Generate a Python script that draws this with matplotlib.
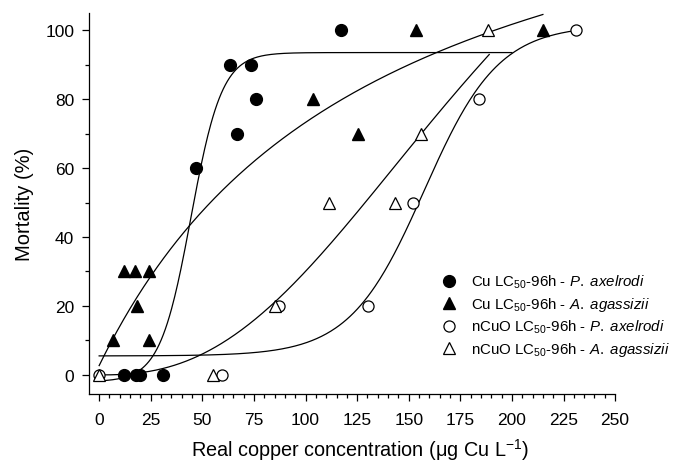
import numpy as np
import matplotlib
matplotlib.use('Agg')
import matplotlib.pyplot as plt
from matplotlib.lines import Line2D

plt.rcParams['font.family'] = ['Liberation Sans', 'DejaVu Sans']
plt.rcParams['mathtext.fontset'] = 'custom'
plt.rcParams['mathtext.rm'] = 'Liberation Sans'
plt.rcParams['mathtext.it'] = 'Liberation Sans:italic'

cu_pa_x = [12, 18, 20, 31, 47, 63.5, 67, 73.5, 76, 117]
cu_pa_y = [0, 0, 0, 0, 60, 90, 70, 90, 80, 100]
cu_aa_x = [6.8, 12, 17.3, 24, 18.4, 24, 103.5, 125.5, 153.5, 215]
cu_aa_y = [10, 30, 30, 30, 20, 10, 80, 70, 100, 100]
ncuo_pa_x = [0, 59.5, 87, 130.5, 152, 184, 231]
ncuo_pa_y = [0, 0, 20, 20, 50, 80, 100]
ncuo_aa_x = [0, 55, 85, 111.3, 143.5, 156, 188.5]
ncuo_aa_y = [0, 0, 20, 50, 50, 70, 100]

labels = [r'Cu LC$_{50}$-96h - $\it{P.\ axelrodi}$',
          r'Cu LC$_{50}$-96h - $\it{A.\ agassizii}$',
          r'nCuO LC$_{50}$-96h - $\it{P.\ axelrodi}$',
          r'nCuO LC$_{50}$-96h - $\it{A.\ agassizii}$']

# fitted regression curves (parameters estimated from the figure)
fit_cu_pa = dict(y0=-2.0, a=95.5, x0=44.5, b=7.5, xmax=200)     # sigmoid
fit_cu_aa = dict(y0=2.7, a=165.8, k=135.0, xmax=215)            # hyperbola
fit_ncuo_pa = dict(y0=5.5, a=96.0, x0=157.5, b=18.0, xmax=231)  # sigmoid
fit_ncuo_aa = dict(a=200.0, c=200.0, h=2.5, xmax=189)           # hill


def sigmoid(p):
    x = np.linspace(0, p['xmax'], 400)
    return x, p['y0'] + p['a'] / (1 + np.exp(-(x - p['x0']) / p['b']))


def hyperbola(p):
    x = np.linspace(0, p['xmax'], 400)
    return x, p['y0'] + p['a'] * x / (p['k'] + x)


def hill(p):
    x = np.linspace(0.01, p['xmax'], 400)
    return x, p['a'] / (1 + (p['c'] / x) ** p['h'])


fig = plt.figure(figsize=(6.73, 4.64), dpi=100)
ax = fig.add_axes([0.132, 0.149, 0.782, 0.821])

for x, y in [sigmoid(fit_cu_pa), hyperbola(fit_cu_aa),
             sigmoid(fit_ncuo_pa), hill(fit_ncuo_aa)]:
    ax.plot(x, y, color='black', lw=0.9, zorder=2)

ms = 8.5
ax.plot(cu_pa_x, cu_pa_y, 'o', color='black', ms=ms, ls='none', zorder=3)
ax.plot(cu_aa_x, cu_aa_y, '^', color='black', ms=ms, ls='none', zorder=3)
ax.plot(ncuo_pa_x, ncuo_pa_y, 'o', mfc='white', mec='black', mew=0.9,
        ms=ms - 0.5, ls='none', zorder=3)
ax.plot(ncuo_aa_x, ncuo_aa_y, '^', mfc='white', mec='black', mew=0.9,
        ms=ms - 0.5, ls='none', zorder=3)

ax.set_xlim(-5, 250)
ax.set_ylim(-5.5, 105)
ax.set_xticks(np.arange(0, 251, 25))
ax.set_xticks(np.arange(0, 251, 5), minor=True)
ax.set_yticks(np.arange(0, 101, 20))
ax.set_yticks(np.arange(0, 101, 10), minor=True)
ax.tick_params(which='major', length=5, width=0.9, labelsize=12.5, direction='out')
ax.tick_params(axis='x', which='major', pad=8)
ax.tick_params(axis='y', which='major', pad=5.5)
ax.tick_params(which='minor', length=3, width=0.9, direction='out')
for s in ['top', 'right']:
    ax.spines[s].set_visible(False)
for s in ['left', 'bottom']:
    ax.spines[s].set_linewidth(0.9)

ax.set_xlabel('Real copper concentration (μg Cu L$^{-1}$)', fontsize=14.3)
ax.xaxis.set_label_coords(0.515, -0.112, transform=ax.transAxes)
ax.xaxis.label.set_va('top')
ax.set_ylabel('Mortality (%)', fontsize=14.5, labelpad=8)

handles = [
    Line2D([], [], marker='o', color='black', ls='none', ms=ms),
    Line2D([], [], marker='^', color='black', ls='none', ms=ms),
    Line2D([], [], marker='o', mfc='white', mec='black', mew=0.9, ls='none', ms=ms - 0.5),
    Line2D([], [], marker='^', mfc='white', mec='black', mew=0.9, ls='none', ms=ms - 0.5),
]
ax.legend(handles, labels, frameon=False, fontsize=10.8, loc='upper left',
          bbox_to_anchor=(435 / 673, 1 - 268 / 464), bbox_transform=fig.transFigure,
          handlelength=1.0, handletextpad=1.0, labelspacing=0.32, borderaxespad=0)

fig.savefig('out.png', dpi=100)
